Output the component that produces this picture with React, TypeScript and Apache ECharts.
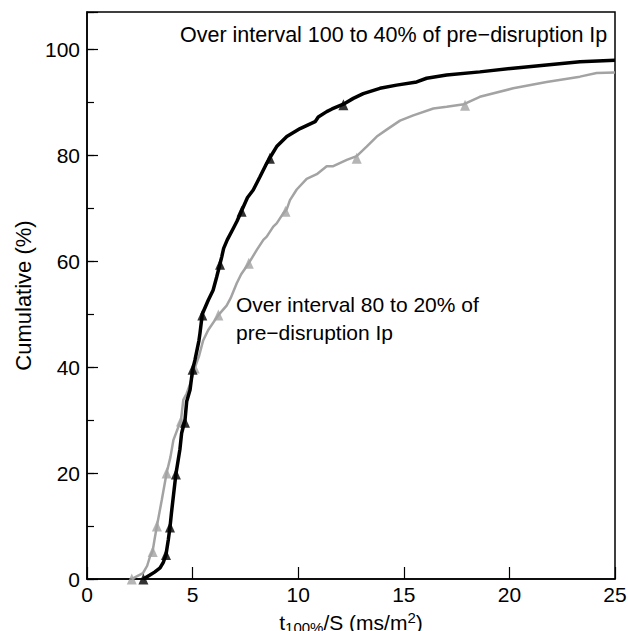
import React, { useEffect, useRef } from 'react';
import * as echarts from 'echarts';

// Black curve: over interval 100 to 40% of pre-disruption Ip
const blackX = [2.67, 2.98, 3.2, 3.46, 3.62, 3.74, 3.85, 3.93, 4.0, 4.1, 4.21, 4.32, 4.4, 4.48, 4.64, 4.72, 4.88, 5.0, 5.11, 5.3, 5.35, 5.46, 5.74, 5.97, 6.14, 6.3, 6.38, 6.47, 6.64, 6.93, 7.1, 7.32, 7.6, 7.87, 8.19, 8.45, 8.66, 8.98, 9.46, 10.09, 10.8, 10.95, 11.35, 11.6, 12.14, 12.61, 13.08, 13.87, 14.66, 15.61, 16.08, 17.03, 18.6, 20.18, 21.76, 23.34, 25];
const blackY = [0, 0.75, 1.3, 2.1, 3.2, 4.6, 7.4, 9.8, 12.5, 16, 19.8, 22.5, 24.5, 27.5, 30, 33.5, 35.7, 39.5, 41.3, 45, 46.4, 50, 52.6, 54.5, 57, 59.5, 60.8, 62.4, 64, 66.2, 67.5, 69.5, 72, 73.4, 75.9, 78, 79.5, 81.6, 83.5, 85, 86.3, 87.2, 88.2, 88.7, 89.6, 90.7, 91.6, 92.6, 93.2, 93.8, 94.5, 95.1, 95.7, 96.4, 97, 97.6, 97.9];

// Grey curve: over interval 80 to 20% of pre-disruption Ip
const grayX = [2.12, 2.4, 2.65, 2.85, 2.98, 3.11, 3.2, 3.31, 3.54, 3.77, 3.95, 4.09, 4.45, 4.56, 4.72, 4.9, 5.1, 5.3, 5.5, 5.74, 6.22, 6.61, 6.8, 7.09, 7.3, 7.66, 8.04, 8.35, 8.51, 8.82, 8.98, 9.29, 9.46, 9.61, 9.93, 10.4, 10.88, 11.35, 11.66, 12.3, 12.77, 13.24, 13.72, 14.19, 14.82, 15.45, 16.4, 17.03, 17.85, 18.6, 20.18, 21.76, 23.34, 24.13, 25];
const grayY = [0, 0.6, 1.1, 2.5, 4.2, 5.3, 7.5, 10, 14.9, 20, 23, 26.2, 30, 33.8, 35, 37, 39.8, 42, 45, 47, 49.8, 51.6, 53, 55.8, 57.5, 59.6, 62.1, 64, 64.6, 66.5, 67.1, 69, 69.8, 71.5, 73.5, 75.5, 76.4, 77.9, 77.9, 79.1, 79.8, 81.6, 83.5, 84.8, 86.5, 87.5, 88.8, 89.1, 89.6, 91, 92.6, 93.8, 94.8, 95.5, 95.6];

// Triangle markers
const blackMarkX = [2.67, 3.74, 3.93, 4.21, 4.64, 5.0, 5.46, 6.3, 7.32, 8.66, 12.14];
const blackMarkY = [0, 4.6, 9.8, 19.8, 29.6, 39.6, 49.8, 59.4, 69.4, 79.4, 89.5];
const grayMarkX = [2.12, 3.11, 3.31, 3.77, 4.45, 5.1, 6.22, 7.66, 9.4, 12.77, 17.9];
const grayMarkY = [0, 5.2, 10, 20, 29.8, 39.8, 49.8, 59.6, 69.4, 79.4, 89.4];

const xTicks = [0, 5, 10, 15, 20, 25];
const yTicks = [0, 20, 40, 60, 80, 100];

const FONT = 'Liberation Sans, Arial, Helvetica, sans-serif';

const zip = (xs: number[], ys: number[]) => xs.map((x, i) => [x, ys[i]]);

export default function App() {
  const ref = useRef<HTMLDivElement>(null);
  useEffect(() => {
    if (!ref.current) return;
    const chart = echarts.init(ref.current, undefined, { renderer: 'svg' });
    const gray = '#a3a3a3';
    chart.setOption({
      animation: false,
      backgroundColor: '#fff',
      grid: {
        left: 87, right: 13, top: 12, bottom: 52,
        containLabel: false, outerBoundsMode: 'none',
        show: true, borderColor: '#000', borderWidth: 1.5, backgroundColor: 'transparent',
      },
      xAxis: {
        type: 'value',
        min: xTicks[0],
        max: xTicks[xTicks.length - 1],
        interval: 5,
        axisLine: { show: true, lineStyle: { color: '#000', width: 1.5 } },
        axisTick: { show: true, inside: true, length: 12, lineStyle: { color: '#000', width: 1.2 } },
        axisLabel: { color: '#000', fontSize: 21, fontFamily: FONT, margin: 5 },
        splitLine: { show: false },
        name: '{a|t}{s|100%}{a|/S (ms/m}{p|2}{a|)}',
        nameLocation: 'middle',
        nameGap: 25,
        nameTextStyle: {
          color: '#000',
          fontFamily: FONT,
          rich: {
            a: { fontSize: 21, lineHeight: 25, fontFamily: FONT, color: '#000', verticalAlign: 'middle' },
            s: { fontSize: 15, lineHeight: 14, fontFamily: FONT, color: '#000', verticalAlign: 'bottom' },
            p: { fontSize: 15, lineHeight: 14, fontFamily: FONT, color: '#000', verticalAlign: 'top' },
          },
        },
      },
      yAxis: [
        {
          type: 'value',
          min: 0,
          max: 107,
          interval: 20,
          axisLine: { show: true, lineStyle: { color: '#000', width: 1.5 } },
          axisTick: { show: true, inside: true, length: 11, lineStyle: { color: '#000', width: 1.2 } },
          axisLabel: {
            color: '#000', fontSize: 21, fontFamily: FONT, margin: 7,
            formatter: (v: number) => (yTicks.includes(v) ? String(v) : ''),
          },
          splitLine: { show: false },
          name: 'Cumulative (%)',
          nameLocation: 'middle',
          nameGap: 53,
          nameTextStyle: { color: '#000', fontSize: 22, fontFamily: FONT },
        },
        {
          type: 'value',
          position: 'left',
          min: 0,
          max: 107,
          interval: 10,
          axisLine: { show: false },
          axisTick: { show: true, inside: true, length: 7, lineStyle: { color: '#000', width: 1.2 } },
          axisLabel: { show: false },
          splitLine: { show: false },
        },
      ],
      graphic: [
        {
          type: 'text', left: 180, top: 24,
          style: { text: 'Over interval 100 to 40% of pre\u2212disruption Ip', fontSize: 21.5, fontFamily: FONT, fill: '#000' },
        },
        {
          type: 'text', left: 236, top: 290,
          style: { text: 'Over interval 80 to 20% of\npre\u2212disruption Ip', fontSize: 21, lineHeight: 28, fontFamily: FONT, fill: '#000' },
        },
      ],
      series: [
        {
          type: 'line', data: zip(grayX, grayY), showSymbol: false, symbol: 'none',
          lineStyle: { color: gray, width: 2.5 }, z: 2,
        },
        {
          type: 'scatter', data: zip(grayMarkX, grayMarkY), symbol: 'triangle', symbolSize: [10, 11],
          itemStyle: { color: gray }, z: 3,
        },
        {
          type: 'line', data: zip(blackX, blackY), showSymbol: false, symbol: 'none',
          lineStyle: { color: '#000', width: 3.5 }, z: 4,
        },
        {
          type: 'scatter', data: zip(blackMarkX, blackMarkY), symbol: 'triangle', symbolSize: [10, 11],
          itemStyle: { color: '#000' }, z: 5,
        },
      ],
    });
    return () => chart.dispose();
  }, []);
  return <div ref={ref} style={{ position: 'fixed', left: 0, top: 0, width: 628, height: 631 }} />;
}
